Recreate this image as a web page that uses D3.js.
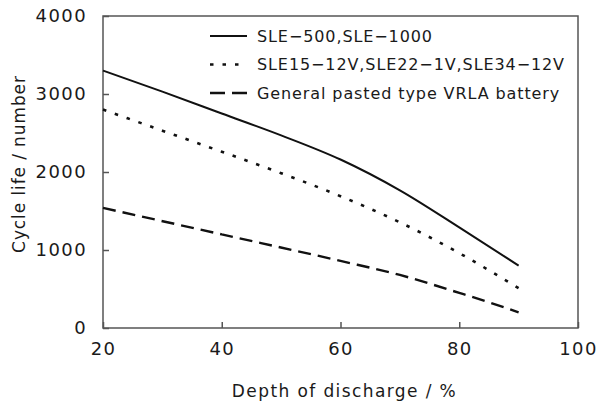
<!DOCTYPE html>
<html>
<head>
<meta charset="utf-8">
<script src="https://cdn.jsdelivr.net/npm/d3@7"></script>
<style>
  body { margin: 0; background: #fff; }
  text { font-family: "DejaVu Sans", sans-serif; fill: #1a1a1a; }
</style>
</head>
<body>
<script>
// Cycle life vs depth of discharge

// Data
var depth = [20, 30, 40, 50, 60, 70, 80, 90];
var sle1000 = [3300, 3030, 2750, 2470, 2160, 1765, 1290, 800];
var sle12v = [2800, 2530, 2260, 1985, 1690, 1355, 960, 510];
var vrlaDepth = [20, 40, 60, 70, 80, 85, 90];
var vrla = [1540, 1200, 860, 680, 450, 330, 200];
var seriesNames = ["SLE\u2212500,SLE\u22121000",
    "SLE15\u221212V,SLE22\u22121V,SLE34\u221212V",
    "General pasted type VRLA battery"];
var xTicks = [20, 40, 60, 80, 100];
var yTicks = [0, 1000, 2000, 3000, 4000];

var width = 597, height = 404;
var margin = {left: 103, right: 19, top: 16, bottom: 76};

var svg = d3.select("body")
    .append("svg")
    .attr("width", width)
    .attr("height", height);

var x = d3.scaleLinear()
    .domain([20, 100])
    .range([margin.left, width - margin.right]);

var y = d3.scaleLinear()
    .domain([0, 4000])
    .range([height - margin.bottom, margin.top]);

//Frame
svg.append("rect")
    .attr("x", x(20))
    .attr("y", y(4000))
    .attr("width", x(100) - x(20))
    .attr("height", y(0) - y(4000))
    .attr("fill", "none")
    .attr("stroke", "#555")
    .attr("stroke-width", 1.5);

//Axes with inward ticks
var xAxis = d3.axisBottom(x)
    .tickValues(xTicks)
    .tickSize(-6)
    .tickPadding(14)
    .tickFormat(d3.format("d"));

var yAxis = d3.axisLeft(y)
    .tickValues(yTicks)
    .tickSize(-6)
    .tickPadding(16)
    .tickFormat(d3.format("d"));

svg.append("g")
    .attr("transform", "translate(0," + y(0) + ")")
    .call(xAxis)
    .call(function(g) { g.select(".domain").remove(); });

svg.append("g")
    .attr("transform", "translate(" + x(20) + ",0)")
    .call(yAxis)
    .call(function(g) { g.select(".domain").remove(); });

svg.selectAll(".tick line")
    .attr("stroke", "#555")
    .attr("stroke-width", 1.5);

svg.selectAll(".tick text")
    .style("font-size", "18px")
    .style("letter-spacing", "1.4px")
    .style("font-family", "\"DejaVu Sans\", sans-serif")
    .attr("fill", "#1a1a1a");

//Axis titles
svg.append("text")
    .attr("x", (x(20) + x(100)) / 2 + 4)
    .attr("y", 397)
    .attr("text-anchor", "middle")
    .style("font-size", "17px")
    .style("letter-spacing", "1.4px")
    .text("Depth of discharge / %");

svg.append("text")
    .attr("transform", "translate(25,164) rotate(-90)")
    .attr("text-anchor", "middle")
    .style("font-size", "17px")
    .style("letter-spacing", "0.9px")
    .text("Cycle life / number");

//Lines
var dashes = [null, "3.5,9", "13,7"];
var widths = [2, 2.6, 2.4];
var series = [
    {xs: depth, ys: sle1000},
    {xs: depth, ys: sle12v},
    {xs: vrlaDepth, ys: vrla}
];

series.forEach(function(s, i) {
    var line = d3.line()
        .x(function(d, j) { return x(s.xs[j]); })
        .y(function(d) { return y(d); })
        .curve(d3.curveMonotoneX);
    svg.append("path")
        .datum(s.ys)
        .attr("d", line)
        .attr("fill", "none")
        .attr("stroke", "#111")
        .attr("stroke-width", widths[i])
        .attr("stroke-dasharray", dashes[i]);
});

//Legend
seriesNames.forEach(function(name, i) {
    var ly = 36 + i * 28.5;
    svg.append("line")
        .attr("x1", 210)
        .attr("x2", 247)
        .attr("y1", ly)
        .attr("y2", ly)
        .attr("stroke", "#111")
        .attr("stroke-width", widths[i])
        .attr("stroke-dasharray", i == 2 ? "15,7" : dashes[i]);
    svg.append("text")
        .attr("x", 257)
        .attr("y", ly)
        .attr("dy", "0.35em")
        .style("font-size", "16px")
        .style("letter-spacing", "0.9px")
        .text(name);
});
</script>
</body>
</html>
